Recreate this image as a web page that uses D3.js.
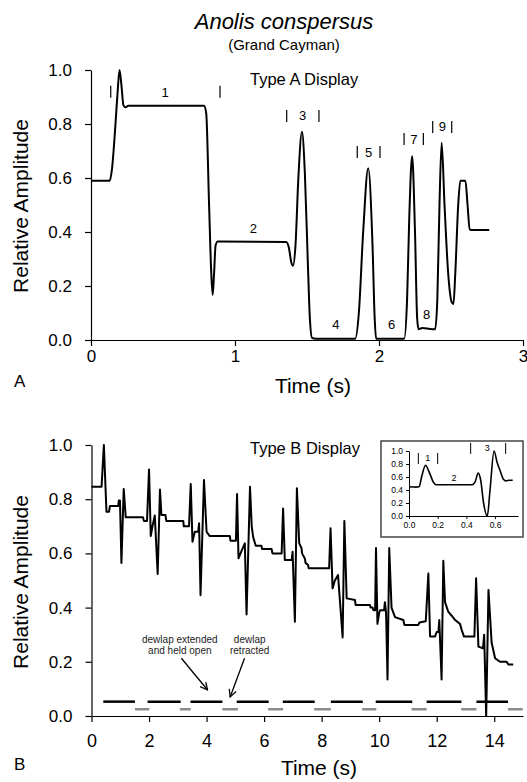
<!DOCTYPE html>
<html><head><meta charset="utf-8">
<script src="https://cdn.jsdelivr.net/npm/d3@7"></script>
<style>
body{margin:0;background:#fff;}
svg{display:block;font-family:"Liberation Sans",Arial,sans-serif;}
</style></head><body>
<svg id="c" width="527" height="782"></svg>
<script>
// ---------- DATA ----------
// Panel A: Type A display
const timeA = [0,.13,.145,.17,.185,.198,.212,.225,.24,.26,.785,.80,.82,.835,.845,.855,.865,.88,1.355,1.375,1.39,1.403,1.42,1.44,1.465,1.485,1.505,1.52,1.535,1.56,1.835,1.86,1.89,1.925,1.955,1.97,1.98,2.175,2.195,2.21,2.23,2.25,2.265,2.275,2.30,2.39,2.405,2.42,2.435,2.455,2.48,2.505,2.517,2.53,2.55,2.565,2.60,2.615,2.63,2.65,2.765];
const ampA  = [.59,.59,.63,.80,.92,1.0,.94,.87,.862,.868,.868,.84,.50,.25,.167,.25,.35,.365,.363,.34,.29,.275,.35,.60,.771,.62,.30,.08,.008,.005,.005,.10,.40,.636,.35,.08,.005,.005,.15,.45,.681,.40,.08,.04,.044,.04,.15,.50,.731,.50,.25,.14,.133,.25,.50,.59,.59,.50,.41,.407,.407];
const segLabelsA = ['1','2','3','4','5','6','7','8','9'];
const segLabelTimeA = [0.514,1.127,1.47,1.70,1.928,2.088,2.243,2.331,2.44];
const segLabelAmpA  = [0.915,0.414,0.83,0.056,0.693,0.056,0.744,0.096,0.789];
const unitMarkTimeA = [0.137,0.896,1.359,1.583,1.849,2.007,2.174,2.308,2.373,2.505];
const unitMarkAmpA  = [0.919,0.919,0.83,0.83,0.696,0.696,0.744,0.744,0.789,0.789];
const timeTicksA = [0,1,2,3];
const ampTicks = [0,.2,.4,.6,.8,1.0];

// Panel B: Type B display
const timeB = [0,.35,.43,.52,.61,.64,.93,.95,.99,1.04,1.12,1.19,1.79,1.82,1.93,2.0,2.06,2.12,2.2,2.3,2.38,2.43,2.57,2.6,3.19,3.21,3.39,3.45,3.51,3.59,3.71,3.74,3.79,3.91,4.0,4.11,4.81,4.83,5.02,5.06,5.11,5.22,5.33,5.39,5.51,5.57,5.62,5.71,5.91,5.93,6.26,6.29,6.61,6.66,6.72,6.96,6.99,7.07,7.14,7.22,7.30,7.32,7.42,7.44,7.53,7.55,8.26,8.31,8.38,8.46,8.57,8.73,8.79,8.87,9.16,9.18,9.68,9.70,9.77,9.80,9.86,9.89,9.94,10.0,10.03,10.17,10.20,10.24,10.29,10.35,10.43,10.55,10.84,10.88,11.36,11.40,11.62,11.71,11.77,11.94,12.0,12.06,12.09,12.17,12.23,12.29,12.40,12.52,12.64,12.81,12.87,12.95,13.31,13.37,13.45,13.61,13.65,13.72,13.80,13.91,14.03,14.20,14.43,14.49,14.66];
const ampB  = [.846,.846,1.0,.754,.754,.775,.775,.795,.795,.565,.838,.733,.733,.72,.72,.91,.664,.70,.74,.524,.836,.742,.742,.72,.72,.70,.70,.856,.643,.68,.68,.711,.446,.871,.68,.664,.664,.647,.647,.819,.582,.61,.637,.375,.846,.70,.66,.628,.628,.616,.616,.60,.60,.766,.576,.576,.606,.348,.84,.638,.619,.60,.58,.565,.557,.545,.545,.693,.471,.50,.52,.29,.72,.434,.428,.41,.41,.40,.40,.39,.39,.62,.34,.38,.39,.39,.42,.38,.135,.62,.40,.365,.354,.336,.336,.345,.35,.526,.293,.293,.31,.31,.354,.135,.573,.42,.385,.37,.354,.34,.317,.293,.293,.508,.256,.25,.30,.0,.465,.27,.213,.20,.20,.19,.19];
const timeTicksB = [0,2,4,6,8,10,12,14];
// dewlap extended (black) and retracted (gray) intervals
const extendedStart = [0.41,1.95,3.44,5.05,6.65,8.32,9.88,11.65,13.38];
const extendedEnd   = [1.51,3.10,4.55,6.16,7.76,9.43,11.15,12.86,14.48];
const retractedStart = [1.51,3.07,4.55,6.14,7.74,9.41,11.13,12.85,14.48];
const retractedEnd   = [2.01,3.45,5.09,6.66,8.32,9.90,11.65,13.38,14.99];

// Inset: Type B single display
const timeIn = [0,.05,.07,.09,.115,.14,.17,.19,.44,.46,.483,.50,.52,.546,.565,.593,.615,.635,.66,.675,.70,.723];
const ampIn  = [.45,.445,.45,.62,.78,.68,.52,.48,.48,.52,.66,.55,.20,.0,.40,1.0,.82,.70,.56,.54,.55,.55];
const timeTicksIn = [0,.2,.4,.6];
const segLabelsIn = ['1','2','3'];
const segLabelTimeIn = [0.13,0.314,0.546];
const segLabelAmpIn  = [0.885,0.585,1.04];
const unitMarkTimeIn = [0.065,0.20,0.43,0.674];
const unitMarkAmpIn  = [0.885,0.885,1.04,1.04];

// ---------- DRAW ----------
const svg = d3.select('#c');
const fmt1 = d3.format('.1f');

function styleAxis(g, size){
  g.selectAll('text').attr('font-size', size).attr('font-family','"Liberation Sans",Arial,sans-serif').attr('fill','#000');
  g.selectAll('line,path').attr('stroke','#000').attr('stroke-width',1.2);
}

// Title
svg.append('text').attr('x',284).attr('y',29).attr('text-anchor','middle')
  .attr('font-size',22).attr('font-style','italic').text('Anolis conspersus');
svg.append('text').attr('x',284).attr('y',50).attr('text-anchor','middle')
  .attr('font-size',15).text('(Grand Cayman)');

// ---- Panel A ----
const xA = d3.scaleLinear().domain([0,3]).range([91,523]);
const yA = d3.scaleLinear().domain([0,1]).range([340,70]);
const gA = svg.append('g');
gA.append('g').attr('transform','translate(0,340)')
  .call(d3.axisBottom(xA).tickValues(timeTicksA).tickFormat(d3.format('d')).tickSize(6).tickSizeOuter(0).tickPadding(4))
  .call(g=>styleAxis(g,17));
gA.append('g').attr('transform','translate(91,0)')
  .call(d3.axisLeft(yA).tickValues(ampTicks).tickFormat(fmt1).tickSize(6).tickSizeOuter(0).tickPadding(13))
  .call(g=>styleAxis(g,17));
gA.append('path').datum(d3.range(timeA.length))
  .attr('fill','none').attr('stroke','#000').attr('stroke-width',2).attr('stroke-linejoin','round')
  .attr('d', d3.line().x(i=>xA(timeA[i])).y(i=>yA(ampA[i])).curve(d3.curveMonotoneX));
gA.selectAll('.segA').data(segLabelsA).join('text')
  .attr('x',(d,i)=>xA(segLabelTimeA[i])).attr('y',(d,i)=>yA(segLabelAmpA[i])+4.5)
  .attr('text-anchor','middle').attr('font-size',13).text(d=>d);
gA.selectAll('.umA').data(unitMarkTimeA).join('line')
  .attr('x1',d=>xA(d)).attr('x2',d=>xA(d))
  .attr('y1',(d,i)=>yA(unitMarkAmpA[i])-6).attr('y2',(d,i)=>yA(unitMarkAmpA[i])+6)
  .attr('stroke','#000').attr('stroke-width',1.2);
gA.append('text').attr('x',xA(1.104)).attr('y',yA(0.967)+6).attr('font-size',16.5).text('Type A Display');
gA.append('text').attr('x',313).attr('y',393).attr('text-anchor','middle').attr('font-size',21).text('Time (s)');
gA.append('text').attr('transform','translate(28,206) rotate(-90)').attr('text-anchor','middle').attr('font-size',21).text('Relative Amplitude');
gA.append('text').attr('x',14).attr('y',387).attr('font-size',17).text('A');

// ---- Panel B ----
const xB = d3.scaleLinear().domain([0,15]).range([91.5,523]);
const yB = d3.scaleLinear().domain([0,1]).range([716,445]);
const gB = svg.append('g');
gB.append('g').attr('transform','translate(0,716)')
  .call(d3.axisBottom(xB).tickValues(timeTicksB).tickFormat(d3.format('d')).tickSize(6).tickSizeOuter(0).tickPadding(12))
  .call(g=>styleAxis(g,18));
gB.append('g').attr('transform','translate(91.5,0)')
  .call(d3.axisLeft(yB).tickValues(ampTicks).tickFormat(fmt1).tickSize(6).tickSizeOuter(0).tickPadding(13))
  .call(g=>styleAxis(g,17));
gB.selectAll('.ret').data(retractedStart).join('line')
  .attr('x1',d=>xB(d)).attr('x2',(d,i)=>xB(retractedEnd[i]))
  .attr('y1',yB(0.025)).attr('y2',yB(0.025)).attr('stroke','#8a8a8a').attr('stroke-width',2.5);
gB.selectAll('.ext').data(extendedStart).join('line')
  .attr('x1',d=>xB(d)).attr('x2',(d,i)=>xB(extendedEnd[i]))
  .attr('y1',yB(0.053)).attr('y2',yB(0.053)).attr('stroke','#000').attr('stroke-width',2.5);
gB.append('path').datum(d3.range(timeB.length))
  .attr('fill','none').attr('stroke','#000').attr('stroke-width',2).attr('stroke-linejoin','round')
  .attr('d', d3.line().x(i=>xB(timeB[i])).y(i=>yB(ampB[i])));
gB.append('text').attr('x',xB(5.51)).attr('y',yB(0.99)+6).attr('font-size',16.5).text('Type B Display');
gB.append('text').attr('x',319).attr('y',775).attr('text-anchor','middle').attr('font-size',21).text('Time (s)');
gB.append('text').attr('transform','translate(28,582) rotate(-90)').attr('text-anchor','middle').attr('font-size',21).text('Relative Amplitude');
gB.append('text').attr('x',14).attr('y',770).attr('font-size',17).text('B');

// annotations
const annFont = 10;
[['dewlap extended',3.07,0.284],['and held open',3.07,0.24],['dewlap',5.5,0.284],['retracted',5.5,0.24]].forEach(([t,x,y])=>{
  gB.append('text').attr('x',xB(x)).attr('y',yB(y)+3.5).attr('text-anchor','middle').attr('font-size',annFont).attr('fill','#222').text(t);
});
const defs = svg.append('defs');
defs.append('marker').attr('id','ah').attr('viewBox','0 0 10 10').attr('refX',9).attr('refY',5)
  .attr('markerWidth',7).attr('markerHeight',7).attr('orient','auto')
  .append('path').attr('d','M1,1 L9,5 L1,9').attr('fill','none').attr('stroke','#000').attr('stroke-width',1.4);
[[3.125,0.213,4.035,0.096],[5.32,0.213,4.82,0.07]].forEach(([t1,a1,t2,a2])=>{
  gB.append('line').attr('x1',xB(t1)).attr('y1',yB(a1)).attr('x2',xB(t2)).attr('y2',yB(a2))
    .attr('stroke','#000').attr('stroke-width',1.3).attr('marker-end','url(#ah)');
});

// ---- Inset ----
const gI = svg.append('g');
gI.append('rect').attr('x',381).attr('y',441).attr('width',142).attr('height',96)
  .attr('fill','#fff').attr('stroke','#444').attr('stroke-width',1.5);
const xI = d3.scaleLinear().domain([0,0.76]).range([409,518]);
const yI = d3.scaleLinear().domain([0,1]).range([516,451]);
gI.append('g').attr('transform','translate(0,516)')
  .call(d3.axisBottom(xI).tickValues(timeTicksIn).tickFormat(fmt1).tickSize(3).tickSizeOuter(0).tickPadding(3))
  .call(g=>{styleAxis(g,8.5); g.selectAll('line,path').attr('stroke-width',1);});
gI.append('g').attr('transform','translate(409,0)')
  .call(d3.axisLeft(yI).tickValues(ampTicks).tickFormat(fmt1).tickSize(3).tickSizeOuter(0).tickPadding(3))
  .call(g=>{styleAxis(g,8.5); g.selectAll('line,path').attr('stroke-width',1);});
gI.append('path').datum(d3.range(timeIn.length))
  .attr('fill','none').attr('stroke','#000').attr('stroke-width',1.6)
  .attr('d', d3.line().x(i=>xI(timeIn[i])).y(i=>yI(ampIn[i])).curve(d3.curveMonotoneX));
gI.selectAll('.segI').data(segLabelsIn).join('text')
  .attr('x',(d,i)=>xI(segLabelTimeIn[i])).attr('y',(d,i)=>yI(segLabelAmpIn[i])+3)
  .attr('text-anchor','middle').attr('font-size',9).text(d=>d);
gI.selectAll('.umI').data(unitMarkTimeIn).join('line')
  .attr('x1',d=>xI(d)).attr('x2',d=>xI(d))
  .attr('y1',(d,i)=>yI(unitMarkAmpIn[i])-5.5).attr('y2',(d,i)=>yI(unitMarkAmpIn[i])+5.5)
  .attr('stroke','#000').attr('stroke-width',1);
</script>
</body></html>
